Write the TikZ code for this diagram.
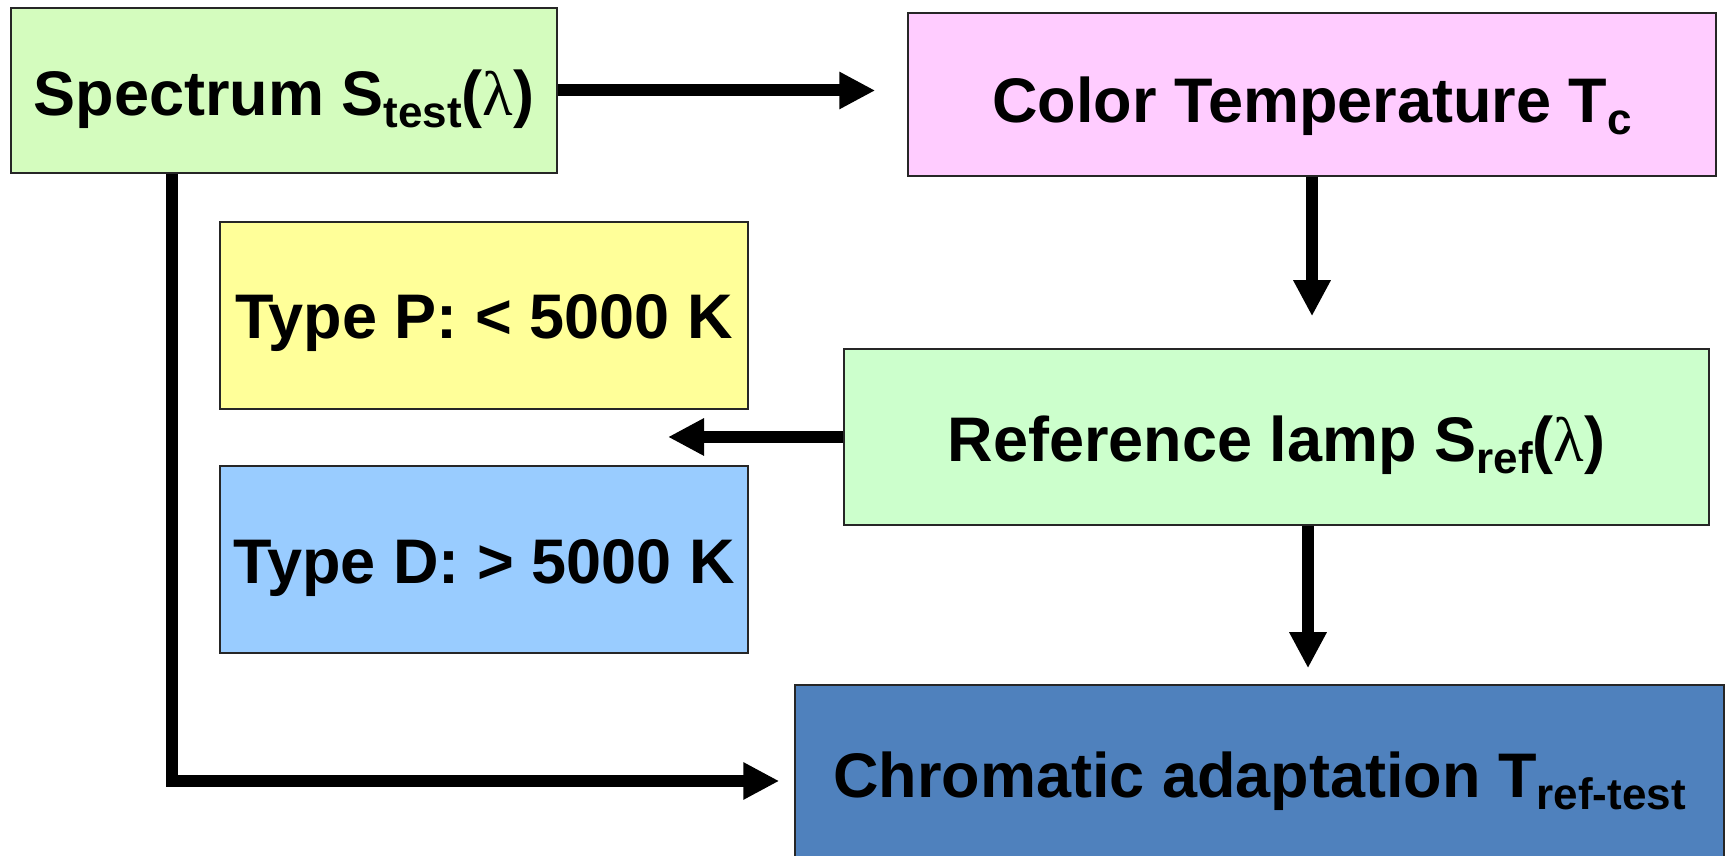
\documentclass[tikz,border=0pt]{standalone}
\usepackage{fontspec}
\setmainfont{Liberation Sans}
\newfontfamily\lamfont{Liberation Serif}
\usetikzlibrary{arrows.meta,calc}
\definecolor{specgreen}{RGB}{212,252,190}
\definecolor{refgreen}{RGB}{204,255,204}
\definecolor{ctpink}{RGB}{255,204,255}
\definecolor{pyellow}{RGB}{255,255,153}
\definecolor{dblue}{RGB}{153,204,255}
\definecolor{chromblue}{RGB}{79,129,189}
\newcommand\sbs[1]{\raisebox{-12pt}{\fontsize{44}{44}\selectfont #1}}
\newcommand\lam{{\lamfont\mdseries λ}}
\tikzset{
  box/.style={draw=black!85, line width=1.5pt, inner sep=0pt, text depth=0pt,
    font=\fontsize{63}{70}\selectfont\bfseries, align=center},
  arr/.style={line width=12pt, -{Triangle[length=36pt,width=35pt]}, line join=miter}
}
\begin{document}
\begin{tikzpicture}[x=1pt,y=1pt]
\clip (0,0) rectangle (1727,856);
\fill[white] (0,0) rectangle (1727,856);
\node[box, fill=specgreen, minimum width=546pt, minimum height=165pt, text height=51pt] (spec) at (284,765.5) {Spectrum S\sbs{test}(\lam)};
\node[box, fill=ctpink, minimum width=808pt, minimum height=163pt, text height=56pt] (ct) at (1312,761.5) {Color Temperature T\sbs{c}};
\node[box, fill=pyellow, minimum width=528pt, minimum height=187pt, text height=47pt] (pP) at (484,540.5) {Type P: < 5000 K};
\node[box, fill=dblue, minimum width=528pt, minimum height=187pt, text height=49pt] (pD) at (484,296.5) {Type D: > 5000 K};
\node[box, fill=refgreen, minimum width=865pt, minimum height=176pt, text height=50pt] (ref) at (1276.5,419) {Reference lamp S\sbs{ref}(\lam)};
\node[box, fill=chromblue, minimum width=929pt, minimum height=182pt, text height=44pt] (chrom) at (1259.5,80) {Chromatic adaptation T\sbs{ref-test}};
\coordinate (typesel) at (668,419);
\coordinate (refout) at ($(ref.south)+(31.5,0)$);
\coordinate (specout) at ($(spec.south)+(-112,0)$);
\coordinate (chromin) at ($(chrom.west)+(0,-5)$);
\draw[arr, shorten >=32pt] (spec.east) -- (spec.east -| ct.west);
\draw[arr, shorten >=32pt] (ct.south) -- (ct.south |- ref.north);
\draw[arr] (ref.west) -- (typesel);
\draw[arr, shorten >=16pt] (refout) -- (refout |- chrom.north);
\draw[arr, shorten >=15pt] (specout) |- (chromin);
\end{tikzpicture}
\end{document}
